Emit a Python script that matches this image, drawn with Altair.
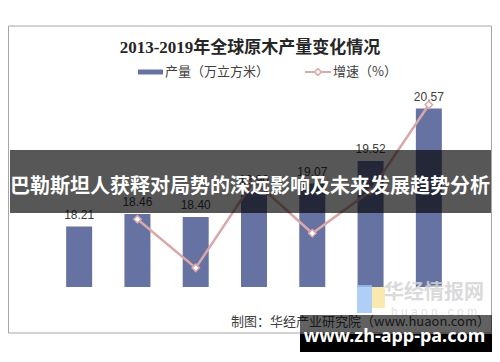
import altair as alt
import pandas as pd

years = ["2013年", "2014年", "2015年", "2016年", "2017年", "2018年", "2019年"]
output = [18.21, 18.46, 18.40, 18.90, 19.07, 19.52, 20.57]
output_labels = ["18.21", "18.46", "18.40", "18.90", "19.07", "19.52", "20.57"]
growth = [None, 1.37, -0.33, 2.72, 0.88, 2.36, 5.38]
left_ticks = [17.0, 17.5, 18.0, 18.5, 19.0, 19.5, 20.0, 20.5, 21.0]
right_ticks = [-1, 0, 1, 2, 3, 4, 5, 6]

title_text = "2013-2019年全球原木产量变化情况"
legend_bar = "产量（万立方米）"
legend_line = "增速（%）"
source_text = "制图：华经产业研究院（www.huaon.com）"
banner_text = "巴勒斯坦人获释对局势的深远影响及未来发展趋势分析"
watermark_text = "www.zh-app-pa.com"
logo_text = "华经情报网"
logo_sub = "h u a o n . c o m"

df = pd.DataFrame({"year": years, "output": output, "growth": growth, "label": output_labels})
one = pd.DataFrame({"k": [0]})

BAR = "#6672A1"
LINE = "#D9A8A8"
TXT = "#404040"
AX = "#BFBFBF"
SANS = "Liberation Sans, Noto Sans CJK SC"
CJK = "Noto Sans CJK SC"

x = alt.X("year:N", sort=years,
          scale=alt.Scale(paddingInner=0, paddingOuter=0),
          axis=alt.Axis(title=None, labelAngle=0, tickBand="extent", domainColor=AX,
                        tickColor=AX, tickSize=4, labelColor=TXT, labelFontSize=12,
                        labelFont=SANS, labelPadding=6))

yl = alt.Y("output:Q", scale=alt.Scale(domain=[17, 21], zero=False, nice=False),
           axis=alt.Axis(title=None, orient="left", values=left_ticks, format=".2f", grid=False,
                         domainColor=AX, tickColor=AX, tickSize=3, labelPadding=9,
                         labelColor=TXT, labelFontSize=12, labelFont=SANS))

yr = alt.Y("growth:Q", scale=alt.Scale(domain=[-1, 6], zero=False, nice=False),
           axis=alt.Axis(title=None, orient="right", values=right_ticks,
                         labelExpr="datum.value + '%'", grid=False,
                         domainColor=AX, tickColor=AX, tickSize=4, labelPadding=6,
                         labelColor=TXT, labelFontSize=12, labelFont=SANS))

base = alt.Chart(df)

frame = alt.Chart(one).mark_rect(fill="white", stroke="#A6A6A6", strokeWidth=1).encode(
    x=alt.value(-41.5), x2=alt.value(441.5), y=alt.value(-61), y2=alt.value(246))

bars = base.mark_bar(size=26, color=BAR).encode(x=x, y=yl, y2=alt.datum(17))
bar_text = base.mark_text(baseline="bottom", dy=-5, fontSize=12, font=SANS, color=TXT).encode(
    x=x, y=yl, text="label:N")

gdf = base.transform_filter("datum.growth != null")
line = gdf.mark_line(color=LINE, strokeWidth=2.5).encode(x=x, y=yr)
pts = gdf.mark_point(shape="diamond", filled=True, fill="white", stroke=LINE,
                     strokeWidth=1.5, size=55, opacity=1).encode(x=x, y=yr)

title = alt.Chart(one).mark_text(text=title_text, fontSize=17, fontWeight="bold",
                                 font="Liberation Serif, Noto Sans CJK SC", color="#262626",
                                 align="center", baseline="middle").encode(
    x=alt.value(200), y=alt.value(-39))

leg_rect = alt.Chart(one).mark_rect(color=BAR).encode(
    x=alt.value(88), x2=alt.value(113), y=alt.value(-17.5), y2=alt.value(-12.5))
leg_t1 = alt.Chart(one).mark_text(text=legend_bar, fontSize=13, font=CJK, color=TXT,
                                  align="left", baseline="middle").encode(
    x=alt.value(115), y=alt.value(-15))
leg_rule = alt.Chart(one).mark_rule(color=LINE, strokeWidth=2).encode(
    x=alt.value(255), x2=alt.value(281), y=alt.value(-15))
leg_pt = alt.Chart(one).mark_point(shape="diamond", filled=True, fill="white", stroke=LINE,
                                   strokeWidth=1.5, size=45, opacity=1).encode(
    x=alt.value(268), y=alt.value(-15))
leg_t2 = alt.Chart(one).mark_text(text=legend_line, fontSize=13, font=CJK, color=TXT,
                                  align="left", baseline="middle").encode(
    x=alt.value(283), y=alt.value(-15))

src = alt.Chart(one).mark_text(text=source_text, fontSize=13, font=CJK, color=TXT,
                               align="right", baseline="middle").encode(
    x=alt.value(440), y=alt.value(235))

logo_b = alt.Chart(one).mark_rect(color="#9CC3F5", opacity=0.8).encode(
    x=alt.value(307), x2=alt.value(322), y=alt.value(198), y2=alt.value(226))
logo_y = alt.Chart(one).mark_rect(color="#F7E49A", opacity=0.8).encode(
    x=alt.value(322), x2=alt.value(335), y=alt.value(200), y2=alt.value(221))
logo_t = alt.Chart(one).mark_text(text=logo_text, fontSize=20, font=CJK, fontWeight="bold",
                                  color="#D4D4D4", opacity=0.85, align="center",
                                  baseline="middle").encode(
    x=alt.value(384), y=alt.value(206))
logo_s = alt.Chart(one).mark_text(text=logo_sub, fontSize=12, font=SANS, color="#E2E2E2",
                                  align="center", baseline="middle").encode(
    x=alt.value(384), y=alt.value(225))

banner = alt.Chart(one).mark_rect(color="black", opacity=0.66).encode(
    x=alt.value(-40), x2=alt.value(441), y=alt.value(63), y2=alt.value(126))
banner_t = alt.Chart(one).mark_text(text=banner_text, fontSize=20, font=CJK, fontWeight="bold",
                                    color="white", align="center", baseline="middle").encode(
    x=alt.value(200), y=alt.value(100))

wm_top = alt.Chart(one).mark_rect(color="black", opacity=0.62).encode(
    x=alt.value(250), x2=alt.value(442), y=alt.value(228), y2=alt.value(247))
wm_bot = alt.Chart(one).mark_rect(color="black").encode(
    x=alt.value(250), x2=alt.value(442), y=alt.value(247), y2=alt.value(265))
wm_t = alt.Chart(one).mark_text(text=watermark_text, fontSize=18, font="Noto Sans",
                                fontWeight="bold", color="white", align="center",
                                baseline="middle").encode(
    x=alt.value(344.5), y=alt.value(250))

chart = alt.layer(
    frame, bars, bar_text, line, pts, title, leg_rect, leg_t1, leg_rule, leg_pt, leg_t2,
    src, logo_b, logo_y, logo_t, logo_s, banner, banner_t, wm_top, wm_bot, wm_t
).resolve_scale(y="independent").properties(
    width=408, height=200, autosize="none",
    padding={"left": 42, "top": 79, "right": 34, "bottom": 67},
    background="white"
).configure_view(stroke=None)

chart.save("out.html", embed_options={"renderer": "svg", "actions": False})
